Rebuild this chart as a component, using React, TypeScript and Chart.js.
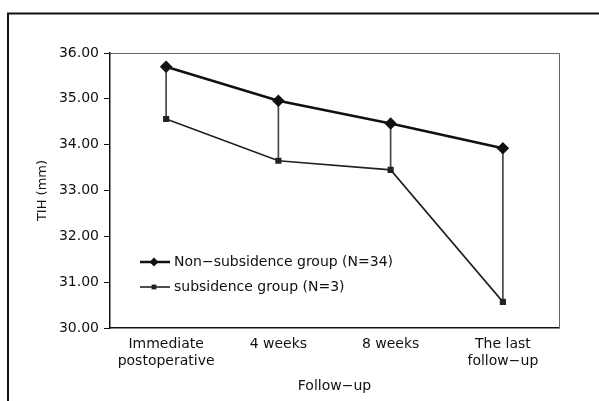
import React, { useEffect, useRef } from "react";
import { Chart, registerables } from "chart.js";

Chart.register(...registerables);

const categories: (string | string[])[] = [
  ["Immediate", "postoperative"],
  "4 weeks",
  "8 weeks",
  ["The last", "follow−up"],
];
const nonSubsidence = [35.7, 34.96, 34.46, 33.92];
const subsidence = [34.56, 33.65, 33.45, 30.57];
const seriesLabels = ["Non−subsidence group (N=34)", "subsidence group (N=3)"];
const yMin = 30;
const yMax = 36;
const yStep = 1;
const yTitle = "TIH (mm)";
const xTitle = "Follow−up";

const FONT = "'DejaVu Sans', sans-serif";

const framePlugin = {
  id: "frame",
  beforeDraw(chart: any) {
    const ctx = chart.ctx;
    ctx.save();
    ctx.strokeStyle = "#111";
    ctx.lineWidth = 2;
    ctx.beginPath();
    ctx.moveTo(8, 401);
    ctx.lineTo(8, 13.5);
    ctx.lineTo(599, 13.5);
    ctx.stroke();
    ctx.restore();
  },
  afterDatasetsDraw(chart: any) {
    const { ctx, chartArea } = chart;
    ctx.save();
    ctx.strokeStyle = "#666";
    ctx.lineWidth = 1;
    ctx.beginPath();
    ctx.moveTo(chartArea.left, chartArea.top + 0.5);
    ctx.lineTo(chartArea.right + 0.5, chartArea.top + 0.5);
    ctx.lineTo(chartArea.right + 0.5, chartArea.bottom);
    ctx.stroke();

    // legend inside plot
    const items = [
      { ds: chart.data.datasets[0], y: 262 },
      { ds: chart.data.datasets[1], y: 287 },
    ];
    const x0 = chartArea.left + 30;
    const x1 = x0 + 30;
    items.forEach(({ ds, y }) => {
      ctx.strokeStyle = ds.borderColor;
      ctx.lineWidth = ds.borderWidth;
      ctx.beginPath();
      ctx.moveTo(x0, y);
      ctx.lineTo(x1, y);
      ctx.stroke();
      ctx.fillStyle = ds.pointBackgroundColor;
      ctx.strokeStyle = ds.borderColor;
      ctx.lineWidth = 1;
      const r = ds.pointRadius;
      const cx = (x0 + x1) / 2 - 1;
      if (ds.pointStyle === "rectRot") {
        ctx.beginPath();
        ctx.moveTo(cx, y - r);
        ctx.lineTo(cx + r, y);
        ctx.lineTo(cx, y + r);
        ctx.lineTo(cx - r, y);
        ctx.closePath();
        ctx.fill();
      } else {
        ctx.fillRect(cx - r * 0.75, y - r * 0.75, r * 1.5, r * 1.5);
      }
      ctx.fillStyle = "#111";
      ctx.font = `14px ${FONT}`;
      ctx.textBaseline = "middle";
      ctx.textAlign = "left";
      ctx.fillText(ds.label, x1 + 4, y);
    });
    ctx.restore();
  },
};

export default function App() {
  const ref = useRef<HTMLCanvasElement>(null);

  useEffect(() => {
    if (!ref.current) return;
    const ranges = subsidence.map((v, i) => [v, nonSubsidence[i]]);
    const chart = new Chart(ref.current, {
      type: "line",
      data: {
        labels: categories,
        datasets: [
          {
            type: "line",
            label: seriesLabels[0],
            data: nonSubsidence,
            borderColor: "#111",
            backgroundColor: "#111",
            pointBackgroundColor: "#111",
            pointBorderColor: "#111",
            borderWidth: 2.5,
            pointStyle: "rectRot",
            pointRadius: 4.5,
            tension: 0,
            order: 1,
          } as any,
          {
            type: "line",
            label: seriesLabels[1],
            data: subsidence,
            borderColor: "#222",
            backgroundColor: "#222",
            pointBackgroundColor: "#222",
            pointBorderColor: "#222",
            borderWidth: 1.6,
            pointStyle: "rect",
            pointRadius: 3.2,
            tension: 0,
            order: 2,
          } as any,
          {
            type: "bar",
            label: "range",
            data: ranges as any,
            backgroundColor: "#444",
            barThickness: 1,
            order: 3,
          } as any,
        ],
      },
      options: {
        responsive: false,
        animation: false,
        devicePixelRatio: 1,
        layout: { padding: { top: 53, right: 40, bottom: 0, left: 0 } },
        plugins: {
          legend: { display: false },
          tooltip: { enabled: false },
          title: { display: false },
        },
        scales: {
          x: {
            offset: true,
            grid: { display: false, drawTicks: false, tickLength: 0 },
            border: { display: true, color: "#111", width: 1.5 },
            ticks: {
              color: "#111",
              font: { family: FONT, size: 14 },
              padding: 8,
              maxRotation: 0,
              autoSkip: false,
            },
            title: {
              display: true,
              text: xTitle,
              color: "#111",
              font: { family: FONT, size: 14 },
              padding: { top: 0, bottom: 6 },
            },
            afterFit(scale: any) {
              scale.height = 73;
            },
          },
          y: {
            min: yMin,
            max: yMax,
            grid: {
              drawOnChartArea: false,
              drawTicks: true,
              tickLength: 6,
              color: "#111",
              lineWidth: 1,
            },
            border: { display: true, color: "#111", width: 1.5 },
            ticks: {
              stepSize: yStep,
              color: "#111",
              font: { family: FONT, size: 14 },
              padding: 5,
              callback: (v: any) => Number(v).toFixed(2),
            },
            title: {
              display: true,
              text: yTitle,
              color: "#111",
              font: { family: FONT, size: 13 },
              padding: { top: 35, bottom: 0 },
            },
            afterFit(scale: any) {
              scale.width = 110;
            },
          },
        },
      },
      plugins: [framePlugin],
    });
    return () => chart.destroy();
  }, []);

  return (
    <div
      style={{
        position: "fixed",
        left: 0,
        top: 0,
        width: 599,
        height: 401,
        background: "#fff",
      }}
    >
      <canvas ref={ref} width={599} height={401} />
    </div>
  );
}
